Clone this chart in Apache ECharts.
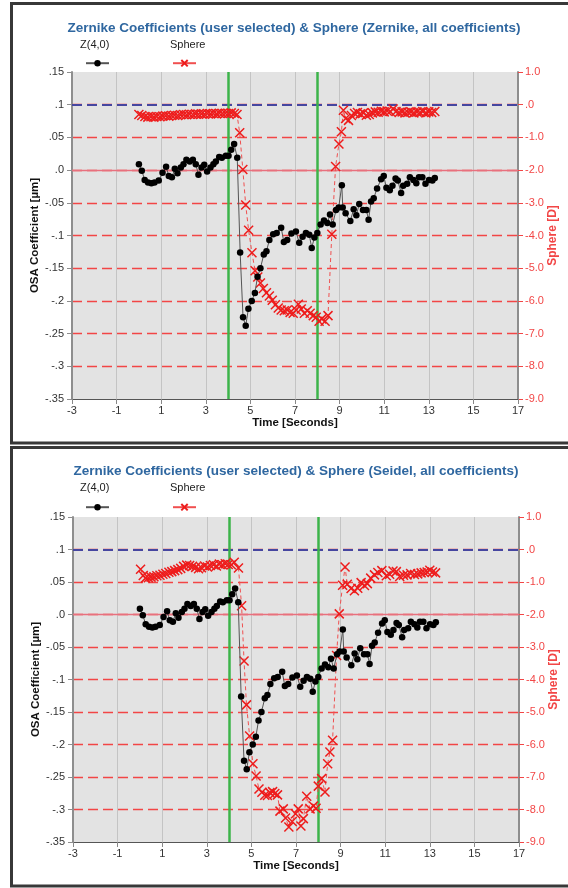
<!DOCTYPE html>
<html><head><meta charset="utf-8">
<script src="https://cdn.jsdelivr.net/npm/echarts@6/dist/echarts.min.js"></script>
<style>html,body{margin:0;padding:0;background:#fff}#c{width:568px;height:888px}</style>
</head><body><div id="c"></div>
<script>
// ---- data ----
const zTime = [0.00,0.13,0.26,0.41,0.56,0.70,0.89,1.06,1.22,1.34,1.48,1.61,1.73,1.88,2.00,2.13,2.28,2.42,2.55,2.67,2.81,2.93,3.06,3.21,3.34,3.45,3.60,3.72,3.90,4.02,4.14,4.27,4.41,4.54,4.67,4.79,4.91,5.06,5.20,5.32,5.45,5.60,5.72,5.85,6.02,6.18,6.38,6.50,6.65,6.84,7.04,7.19,7.34,7.49,7.64,7.75,7.87,8.00,8.15,8.30,8.45,8.57,8.69,8.84,8.96,9.10,9.14,9.27,9.48,9.63,9.75,9.88,10.05,10.20,10.30,10.41,10.53,10.68,10.86,10.98,11.10,11.25,11.37,11.51,11.61,11.76,11.85,12.03,12.15,12.31,12.44,12.56,12.71,12.85,13.01,13.16,13.27];
const z40 = [0.009,-0.001,-0.015,-0.019,-0.020,-0.019,-0.016,-0.004,0.005,-0.009,-0.011,0.002,-0.005,0.004,0.009,0.016,0.013,0.016,0.009,-0.007,0.004,0.008,-0.002,0.004,0.009,0.013,0.020,0.019,0.022,0.022,0.031,0.040,0.019,-0.126,-0.225,-0.238,-0.212,-0.200,-0.188,-0.163,-0.150,-0.129,-0.124,-0.107,-0.098,-0.096,-0.088,-0.110,-0.107,-0.097,-0.094,-0.111,-0.102,-0.096,-0.099,-0.119,-0.103,-0.096,-0.083,-0.077,-0.081,-0.068,-0.083,-0.061,-0.057,-0.023,-0.057,-0.066,-0.078,-0.060,-0.069,-0.052,-0.061,-0.061,-0.076,-0.048,-0.043,-0.028,-0.014,-0.009,-0.027,-0.031,-0.024,-0.013,-0.016,-0.035,-0.024,-0.021,-0.011,-0.015,-0.020,-0.011,-0.011,-0.021,-0.015,-0.016,-0.012];

const sphereZernikeTime = [0.00,0.13,0.27,0.40,0.54,0.67,0.80,0.94,1.07,1.20,1.34,1.47,1.60,1.74,1.87,2.01,2.14,2.27,2.41,2.54,2.67,2.81,2.94,3.07,3.21,3.34,3.48,3.61,3.74,3.88,4.01,4.14,4.28,4.40,4.52,4.66,4.79,4.92,5.07,5.21,5.33,5.45,5.58,5.72,5.85,5.98,6.12,6.25,6.38,6.52,6.65,6.78,6.92,7.05,7.15,7.28,7.42,7.55,7.68,7.82,7.95,8.08,8.20,8.35,8.48,8.65,8.82,8.97,9.08,9.17,9.27,9.40,9.53,9.67,9.80,9.93,10.07,10.20,10.33,10.47,10.60,10.73,10.87,11.00,11.13,11.27,11.40,11.53,11.67,11.80,11.93,12.07,12.20,12.33,12.47,12.60,12.73,12.87,13.00,13.13,13.27];
const sphereZernike = [-0.30,-0.33,-0.36,-0.38,-0.37,-0.38,-0.36,-0.37,-0.35,-0.34,-0.35,-0.33,-0.32,-0.33,-0.31,-0.30,-0.31,-0.29,-0.30,-0.28,-0.29,-0.28,-0.29,-0.27,-0.28,-0.27,-0.28,-0.26,-0.27,-0.26,-0.27,-0.25,-0.27,-0.30,-0.86,-1.98,-3.07,-3.84,-4.53,-5.08,-5.27,-5.45,-5.62,-5.75,-5.85,-5.98,-6.12,-6.22,-6.28,-6.30,-6.28,-6.35,-6.38,-6.28,-6.10,-6.25,-6.38,-6.30,-6.38,-6.45,-6.50,-6.62,-6.55,-6.62,-6.45,-3.96,-1.89,-1.20,-0.83,-0.17,-0.42,-0.48,-0.33,-0.27,-0.24,-0.28,-0.25,-0.32,-0.30,-0.25,-0.22,-0.23,-0.20,-0.22,-0.19,-0.21,-0.13,-0.21,-0.24,-0.22,-0.25,-0.23,-0.22,-0.25,-0.22,-0.24,-0.21,-0.25,-0.22,-0.24,-0.21];

const sphereSeidelTime = [0.03,0.15,0.25,0.38,0.50,0.63,0.76,0.90,1.03,1.16,1.30,1.43,1.56,1.70,1.83,1.96,2.10,2.23,2.36,2.50,2.63,2.76,2.90,3.03,3.16,3.30,3.43,3.56,3.70,3.83,3.96,4.10,4.23,4.42,4.56,4.67,4.78,4.92,5.07,5.21,5.34,5.47,5.60,5.72,5.83,5.95,6.05,6.17,6.28,6.43,6.53,6.68,6.83,6.98,7.10,7.22,7.33,7.48,7.63,7.78,7.90,8.00,8.15,8.30,8.42,8.52,8.64,8.82,8.94,9.09,9.20,9.30,9.47,9.62,9.77,9.92,10.07,10.20,10.35,10.52,10.67,10.85,11.05,11.20,11.35,11.50,11.65,11.82,11.98,12.14,12.31,12.46,12.61,12.75,12.88,13.00,13.12,13.26];
const sphereSeidel = [-0.61,-0.80,-0.88,-0.87,-0.85,-0.84,-0.81,-0.79,-0.76,-0.74,-0.70,-0.68,-0.65,-0.62,-0.58,-0.52,-0.48,-0.49,-0.52,-0.55,-0.59,-0.56,-0.51,-0.54,-0.49,-0.47,-0.51,-0.45,-0.47,-0.44,-0.46,-0.47,-0.39,-0.57,-1.73,-3.43,-4.78,-5.74,-6.59,-6.97,-7.37,-7.47,-7.56,-7.57,-7.48,-7.45,-7.51,-7.55,-8.05,-7.98,-8.26,-8.54,-8.37,-8.13,-7.98,-8.51,-8.28,-7.59,-7.98,-7.89,-7.96,-7.28,-7.05,-7.46,-6.59,-6.23,-5.87,-3.26,-1.98,-1.10,-0.54,-1.07,-1.20,-1.27,-1.19,-1.02,-1.11,-1.05,-0.88,-0.78,-0.71,-0.65,-0.81,-0.76,-0.66,-0.68,-0.83,-0.79,-0.78,-0.74,-0.77,-0.75,-0.72,-0.71,-0.69,-0.64,-0.69,-0.72];

const xTickLabels = ['-3','-1','1','3','5','7','9','11','13','15','17'];
const leftTickLabels = ['-.35','-.3','-.25','-.2','-.15','-.1','-.05','.0','.05','.1','.15'];
const rightTickLabels = ['-9.0','-8.0','-7.0','-6.0','-5.0','-4.0','-3.0','-2.0','-1.0','.0','1.0'];
const eventTimes = [4, 8];
const chartTitles = ['Zernike Coefficients (user selected) & Sphere (Zernike, all coefficients)',
                     'Zernike Coefficients (user selected) & Sphere (Seidel, all coefficients)'];
const seriesNames = ['Z(4,0)', 'Sphere'];

// ---- build ----
const FONT = '"Liberation Sans", Arial, sans-serif';
const zip = (t, v) => t.map((x, i) => [x, v[i]]);
const sphereData = [zip(sphereZernikeTime, sphereZernike), zip(sphereSeidelTime, sphereSeidel)];
const zData = zip(zTime, z40);

const layout = [
  {left: 72, top: 72, height: 327, titleX: 294, titleY: 28, legTextY: 45, legIconY: 58, box: [11.5, 3.5, 580, 439.5]},
  {left: 73, top: 517, height: 325, titleX: 296, titleY: 471, legTextY: 488, legIconY: 502, box: [11.5, 447.5, 580, 438.5]}
];
const W = 446;
const RED = '#f24646';

const grids = [], xAxes = [], yAxes = [], series = [], legends = [], graphics = [];
layout.forEach((L, i) => {
  grids.push({left: L.left, top: L.top, width: W, height: L.height, show: true,
              backgroundColor: '#e3e3e3', borderWidth: 0});
  xAxes.push({type: 'value', gridIndex: i, min: -3, max: 17, interval: 2,
    axisLine: {onZero: false, lineStyle: {color: '#555', width: 1}},
    axisTick: {length: 5, lineStyle: {color: '#888'}},
    axisLabel: {formatter: v => xTickLabels[Math.round((v + 3) / 2)], color: '#333', fontSize: 11, margin: 6, fontFamily: FONT},
    splitLine: {show: true, lineStyle: {color: '#c4c4c4', width: 1}},
    name: 'Time [Seconds]', nameLocation: 'middle', nameGap: 18, nameMoveOverlap: false,
    nameTextStyle: {fontWeight: 'bold', fontSize: 11.5, color: '#111', fontFamily: FONT}});
  yAxes.push({type: 'value', gridIndex: i, position: 'left', min: -0.35, max: 0.15, interval: 0.05,
    axisLine: {show: true, onZero: false, lineStyle: {color: '#8e8e8e', width: 2}},
    axisTick: {show: true, length: 5, lineStyle: {color: '#8e8e8e'}},
    axisLabel: {formatter: v => leftTickLabels[Math.round((v + 0.35) / 0.05)], color: '#333', fontSize: 11, margin: 8, fontFamily: FONT},
    splitLine: {show: false},
    name: 'OSA Coefficient [µm]', nameLocation: 'middle', nameRotate: 90, nameGap: 31, nameMoveOverlap: false,
    nameTextStyle: {fontWeight: 'bold', fontSize: 11.5, color: '#111', fontFamily: FONT}});
  yAxes.push({type: 'value', gridIndex: i, position: 'right', min: -9, max: 1, interval: 1,
    axisLine: {show: true, onZero: false, lineStyle: {color: '#8e8e8e', width: 2}},
    axisTick: {show: true, length: 5, lineStyle: {color: RED}},
    axisLabel: {formatter: v => rightTickLabels[Math.round(v + 9)], color: RED, fontSize: 11, margin: 7, fontFamily: FONT},
    splitLine: {show: true, showMinLine: false, showMaxLine: false, lineStyle: {color: RED, width: 1.3, type: [10, 5]}},
    name: 'Sphere [D]', nameLocation: 'middle', nameRotate: 90, nameGap: 29, nameMoveOverlap: false,
    nameTextStyle: {fontWeight: 'bold', fontSize: 12, color: RED, fontFamily: FONT}});

  series.push({type: 'line', name: seriesNames[1], xAxisIndex: i, yAxisIndex: 2 * i + 1,
    data: sphereData[i], symbol: 'path://M0,0L10,10M10,0L0,10', symbolSize: 9, showAllSymbol: true,
    lineStyle: {color: '#f05050', width: 1, type: [4, 3]},
    itemStyle: {color: '#ee1c1c', borderColor: '#ee1c1c', borderWidth: 1.5}, z: 2,
    markLine: {silent: true, symbol: 'none', z: 1, animation: false, label: {show: false},
      lineStyle: {color: '#4646a0', width: 2, type: [10, 5]}, data: [{yAxis: 0}]}});
  series.push({type: 'line', name: seriesNames[0], xAxisIndex: i, yAxisIndex: 2 * i,
    data: zData, symbol: 'circle', symbolSize: 6.5, showAllSymbol: true,
    lineStyle: {color: '#555', width: 1}, itemStyle: {color: '#000'}, z: 3,
    markLine: {silent: true, symbol: 'none', z: 1, animation: false, label: {show: false},
      data: [
        {yAxis: 0, lineStyle: {color: '#e8707e', width: 1.3, type: 'solid'}},
        ...eventTimes.map(t => ({xAxis: t, lineStyle: {color: '#3cb44a', width: 2.5, type: 'solid'}}))
      ]}});

  legends.push({data: [seriesNames[0], {name: seriesNames[1], lineStyle: {type: 'solid'}}],
    left: 80, top: L.legIconY - 4, itemWidth: 23, itemHeight: 8, itemGap: 62,
    formatter: () => '', selectedMode: false, textStyle: {fontSize: 1}});

  const [bx, by, bw, bh] = L.box;
  graphics.push({type: 'rect', shape: {x: bx, y: by, width: bw, height: bh},
    style: {fill: 'none', stroke: '#383838', lineWidth: 3}, silent: true});
  graphics.push({type: 'text', x: L.titleX, y: L.titleY, silent: true,
    style: {text: chartTitles[i], textAlign: 'center', textVerticalAlign: 'middle',
            font: 'bold 13.5px ' + FONT, fill: '#2f67a0'}});
  graphics.push({type: 'text', x: 80, y: L.legTextY, silent: true,
    style: {text: seriesNames[0], textAlign: 'left', textVerticalAlign: 'middle', font: '11px ' + FONT, fill: '#222'}});
  graphics.push({type: 'text', x: 170, y: L.legTextY, silent: true,
    style: {text: seriesNames[1], textAlign: 'left', textVerticalAlign: 'middle', font: '11px ' + FONT, fill: '#222'}});
});

const chart = echarts.init(document.getElementById('c'), null, {renderer: 'canvas'});
chart.setOption({
  animation: false,
  backgroundColor: '#ffffff',
  textStyle: {fontFamily: FONT},
  grid: grids, xAxis: xAxes, yAxis: yAxes, series: series, legend: legends,
  graphic: graphics
});
</script></body></html>
